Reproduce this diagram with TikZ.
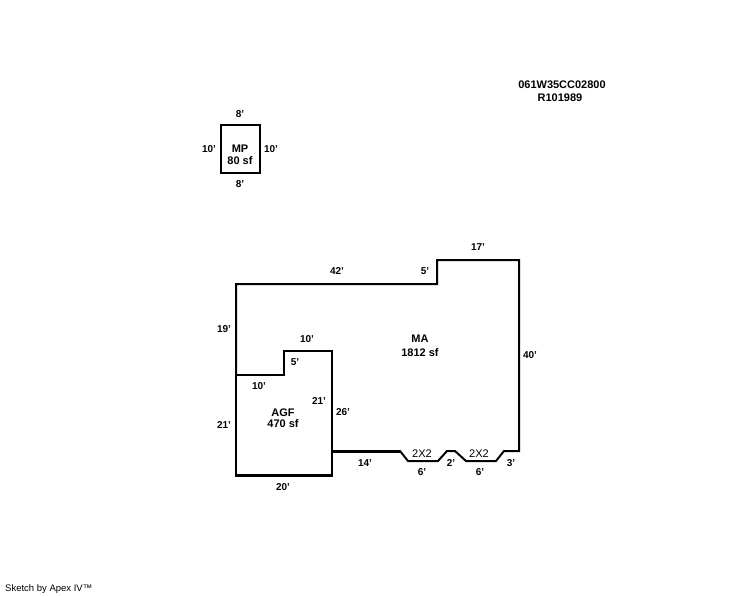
\documentclass[tikz,border=0pt]{standalone}
\usepackage{fontspec}
\setmainfont{Liberation Sans}
\tikzset{
	wall/.style = {line width=2pt, miter limit=10},
	heavywall/.style = {line width=3pt},
	dim/.style = {inner sep=0pt, font=\fontsize{10}{11}\selectfont\bfseries},
	bay/.style = {inner sep=0pt, font=\fontsize{11}{12}\selectfont},
	area/.style = {inner sep=0pt, align=center, font=\fontsize{11}{12}\selectfont\bfseries}
}
\begin{document}
\begin{tikzpicture}[x=1pt,y=-1pt]
	\useasboundingbox (0,0) rectangle (744,595);
	\fill[white] (0,0) rectangle (744,595);
	% MP
	\draw[wall] (221,125) rectangle (260,173);
	\node[area] (mp) at (240,155) {MP\\[-0.5pt]80 sf};
	\node[dim] (mpT) at (240,114) {8'};
	\node[dim] (mpB) at (240,184) {8'};
	\node[dim] (mpL) at (209,149) {10'};
	\node[dim] (mpR) at (271,149) {10'};
	% MA
	\draw[wall] (332,451) -- (400,451) -- (408,461) -- (438,461) -- (447,451) -- (455,451)
		-- (466,461) -- (496,461) -- (504,451) -- (519,451) -- (519,260) -- (437,260)
		-- (437,284) -- (236,284) -- (236,375);
	\draw[heavywall] (332,451.5) -- (400,451.5);
	\node[area] (ma) at (420,346) {MA\\[2pt]1812 sf};
	\node[dim] (ma42) at (337,271) {42'};
	\node[dim] (ma5) at (425,271) {5'};
	\node[dim] (ma17) at (478,247) {17'};
	\node[dim] (ma40) at (530,355) {40'};
	\node[dim] (ma19) at (224,329) {19'};
	\node[dim] (ma26) at (343,412) {26'};
	\node[dim] (ma14) at (365,463) {14'};
	\node[dim] (ma6a) at (422,472) {6'};
	\node[dim] (ma2) at (451,463) {2'};
	\node[dim] (ma6b) at (480,472) {6'};
	\node[dim] (ma3) at (511,463) {3'};
	\node[bay] (bay1) at (422,454) {2X2};
	\node[bay] (bay2) at (479,454) {2X2};
	% AGF
	\draw[wall] (236,375) -- (284,375) -- (284,351) -- (332,351) -- (332,475) -- (236,475) -- cycle;
	\draw[heavywall] (235,475) -- (333,475);
	\node[area] (agf) at (283,418) {AGF\\[-1.5pt]470 sf};
	\node[dim] (agf10a) at (307,339) {10'};
	\node[dim] (agf5) at (295,362) {5'};
	\node[dim] (agf10b) at (259,386) {10'};
	\node[dim] (agf21a) at (319,401) {21'};
	\node[dim] (agf21b) at (224,425) {21'};
	\node[dim] (agf20) at (283,487) {20'};
	% parcel text
	\node[area] (parcel) at (562,85) {061W35CC02800};
	\node[area] (rec) at (560,98) {R101989};
	\node[anchor=west, inner sep=0pt, font=\fontsize{9.5}{11}\selectfont] (credit) at (5,589) {Sketch by Apex IV\texttrademark};
\end{tikzpicture}
\end{document}
